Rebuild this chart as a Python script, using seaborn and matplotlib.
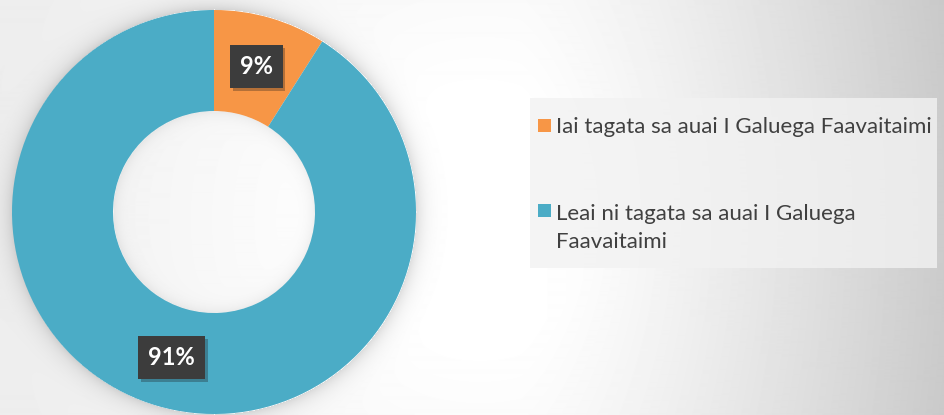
import numpy as np
import matplotlib
matplotlib.use("Agg")
import matplotlib.pyplot as plt
import matplotlib.patheffects as pe
from matplotlib.patches import Rectangle
import seaborn as sns

# data
labels = ["Iai tagata sa auai I Galuega Faavaitaimi",
          "Leai ni tagata sa auai I Galuega\nFaavaitaimi"]
shares = [9, 91]
colors = ["#F79646", "#4BACC6"]

sns.set_theme(style="white")
plt.rcParams['font.family'] = ['Lato', 'DejaVu Sans']

W, H = 945, 415
fig = plt.figure(figsize=(W / 100, H / 100), dpi=100)

# soft grey background gradient with a glow around the donut
yy, xx = np.mgrid[0:H, 0:W]
d = np.hypot(xx - 480, yy - 220)
bg = 1 - 0.07 * np.clip((d - 120) / 380, 0, 1) - 0.14 * np.clip((xx - 520) / 425, 0, 1) ** 1.3
cx, cy, r_out, r_in = 214, 212, 202, 101
rr = np.hypot(xx - cx, yy - cy)
bg -= 0.13 * np.exp(-np.clip(rr - r_out, 0, None) / 9) * (rr > r_out)
bg -= 0.06 * np.exp(-np.clip(r_in - rr, 0, None) / 6) * (rr < r_in)
bgax = fig.add_axes([0, 0, 1, 1])
bgax.imshow(bg, cmap="gray", vmin=0, vmax=1, aspect="auto", interpolation="bilinear")
bgax.axis("off")

# donut
ax = fig.add_axes([12 / W, 1 / H, 404 / W, 404 / H])
wedges, texts, autotexts = ax.pie(
    shares, colors=colors, startangle=90, counterclock=False,
    wedgeprops=dict(width=0.5, linewidth=0),
    autopct=lambda p: f"{p:.0f}%", pctdistance=0.75)
ax.set_xlim(-1, 1)
ax.set_ylim(-1, 1)
ax.axis("off")

for t in autotexts:
    t.set_color("white")
    t.set_fontweight("bold")
    t.set_fontsize(17)
    t.set_bbox(dict(boxstyle="square,pad=0.42", fc="#3c3c3c", ec="none", lw=0))
    t.get_bbox_patch().set_path_effects(
        [pe.withSimplePatchShadow(offset=(2, -2), shadow_rgbFace="k", alpha=0.3), pe.Normal()])

# legend panel
fig.patches.append(Rectangle((530 / W, 1 - 268 / H), 407 / W, 170 / H,
                             transform=fig.transFigure, fc="#f2f2f2", ec="none", alpha=0.8))
marker_tops = [119, 204]
last_baselines = [133, 248]
for lab, col, ym, yb in zip(labels, colors, marker_tops, last_baselines):
    fig.patches.append(Rectangle((538 / W, 1 - (ym + 13) / H), 13 / W, 13 / H,
                                 transform=fig.transFigure, fc=col, ec="none"))
    fig.text(556 / W, 1 - yb / H, lab, va="baseline", ha="left",
             fontsize=16, color="#404040", linespacing=1.5)

fig.savefig("out.png", dpi=100)
